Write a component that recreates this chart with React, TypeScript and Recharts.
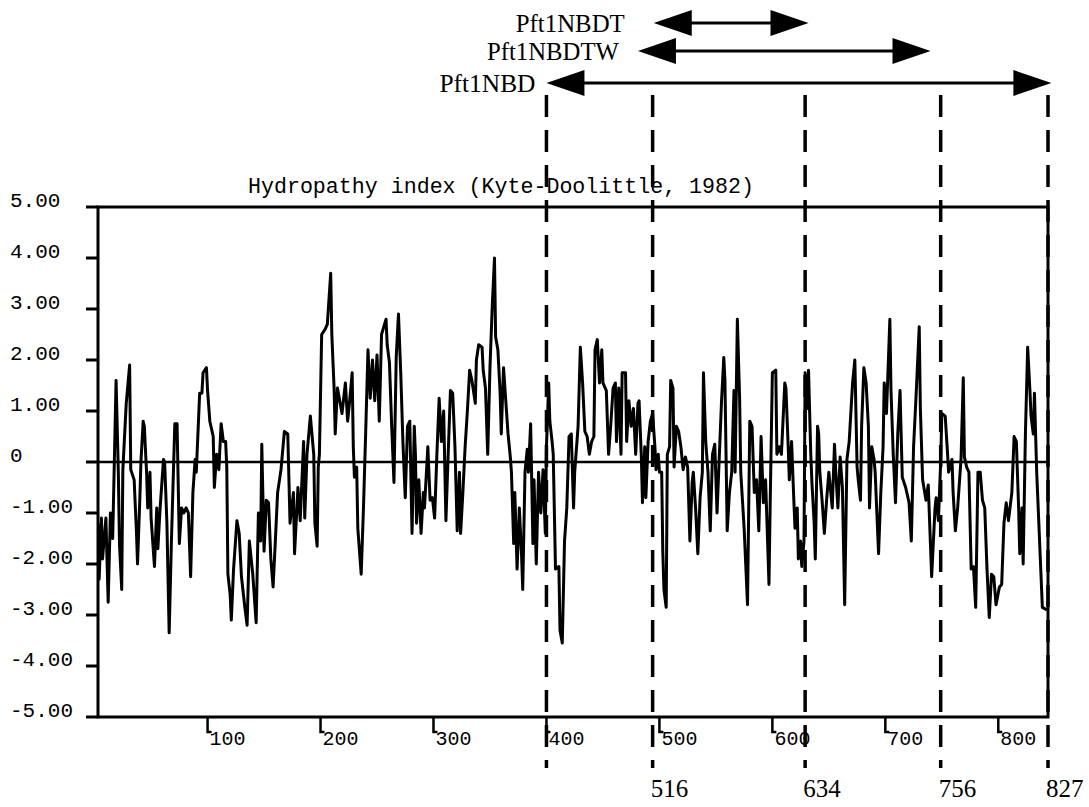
import React from 'react';
import { LineChart, Line, XAxis, YAxis, ReferenceLine, ReferenceArea } from 'recharts';

// residue positions (x) and Kyte-Doolittle hydropathy values (y)
const residues = [
  // 3-140
  3, 4, 6, 7, 10, 12, 14, 16, 19, 21, 22, 24, 25, 28, 31, 32, 35, 37, 38, 40, 41, 43, 44, 46, 47, 49, 50, 53, 55, 56,
  58, 61, 62, 64, 66, 68, 71, 73, 75, 77, 79, 81, 83, 85, 87, 89, 90, 93, 95, 96, 99, 100, 102, 105, 106, 108, 110,
  112, 114, 116, 117, 118, 120, 121, 123, 126, 128, 130, 133, 135, 137, 140,
  // 143-283
  143, 145, 147, 148, 150, 152, 154, 156, 158, 160, 162, 165, 168, 171, 173, 176, 177, 180, 182, 185, 186, 188, 191,
  194, 195, 197, 198, 199, 201, 204, 206, 209, 210, 212, 213, 215, 217, 219, 222, 224, 226, 228, 229, 230, 232, 233,
  236, 238, 240, 242, 244, 246, 248, 250, 252, 254, 258, 259, 261, 263, 265, 267, 269, 271, 273, 275, 277, 279, 281, 283,
  // 284-424
  284, 285, 287, 289, 291, 292, 295, 297, 299, 301, 303, 305, 307, 309, 311, 313, 315, 317, 319, 321, 323, 324, 326,
  328, 330, 332, 334, 337, 338, 340, 343, 344, 346, 348, 350, 352, 354, 355, 357, 359, 360, 362, 364, 366, 368, 369,
  371, 372, 374, 376, 378, 379, 381, 383, 384, 386, 388, 389, 391, 393, 395, 397, 399, 400, 402, 403, 405, 406, 408,
  411, 412, 414, 416, 418, 420, 422, 424,
  // 425-566
  425, 428, 430, 432, 434, 436, 438, 440, 442, 443, 445, 447, 449, 450, 453, 455, 457, 459, 461, 462, 464, 466, 467,
  470, 471, 473, 475, 477, 479, 481, 482, 484, 485, 487, 488, 490, 492, 494, 496, 497, 499, 500, 502, 503, 504, 506,
  507, 509, 510, 512, 513, 515, 517, 519, 521, 523, 525, 527, 529, 530, 532, 534, 536, 538, 539, 541, 543, 545, 547,
  549, 551, 553, 555, 557, 558, 560, 562, 564, 566,
  // 567-707
  567, 569, 571, 572, 575, 578, 580, 582, 584, 586, 588, 590, 592, 594, 597, 598, 600, 603, 604, 606, 608, 611, 612,
  614, 615, 617, 619, 620, 622, 623, 625, 626, 628, 629, 631, 632, 634, 635, 637, 638, 640, 641, 642, 644, 646, 648,
  650, 653, 655, 656, 658, 660, 662, 664, 666, 668, 671, 673, 675, 676, 678, 679, 681, 683, 685, 686, 688, 690, 691,
  694, 696, 698, 699, 701, 704, 705, 707,
  // 709-843
  709, 711, 713, 715, 718, 721, 723, 725, 727, 730, 731, 733, 736, 738, 740, 741, 744, 745, 747, 749, 750, 753, 755,
  756, 759, 760, 762, 764, 767, 769, 770, 772, 774, 776, 778, 780, 782, 784, 786, 788, 790, 792, 794, 796, 798, 801,
  803, 805, 807, 809, 812, 814, 816, 818, 819, 821, 822, 824, 826, 828, 829, 831, 832, 834, 839, 843,
];

const hydropathy = [
  -1.2, -2.3, -1.1, -1.9, -1.1, -2.75, -1.0, -1.5, 1.6, -0.2, -1.6, -2.5, -0.15, 1.15, 1.9, -0.15, -0.35, -1.35, -2.0,
  -0.75, 0, 0.8, 0.7, -0.2, -0.9, -0.2, -1.1, -2.05, -0.9, -1.7, -0.9, 0.05, 0, -1.2, -3.35, -1.55, 0.75, 0.75, -1.6,
  -0.9, -1.0, -0.9, -1.0, -2.25, -0.6, 0.05, -0.2, 1.35, 1.35, 1.75, 1.85, 1.4, 0.8, 0.5, -0.5, 0.15, -0.15, 0.75, 0.4,
  0.4, -0.1, -2.2, -2.6, -3.1, -2.1, -1.15, -1.4, -2.25, -2.85, -3.2, -1.55, -2.2,

  -3.15, -1.0, -1.55, 0.35, -1.75, -0.75, -0.8, -1.9, -2.45, -1.55, -0.6, -0.15, 0.6, 0.55, -1.2, -0.6, -1.8, -0.5,
  -1.15, 0.4, -1.1, 0.15, 0.9, 0.15, -1.2, -1.65, -0.1, 0.15, 2.5, 2.6, 2.7, 3.7, 2.5, 1.45, 0.55, 1.45, 1.2, 0.95,
  1.55, 0.8, 1.25, 1.75, 0.3, -0.3, -0.1, -1.3, -2.2, -0.9, 0.6, 2.2, 1.25, 2.0, 1.2, 2.1, 0.8, 2.5, 2.8, 2.3, 1.95,
  0.7, -0.4, 2.05, 2.9, 1.75, 0.35, -0.7, 0.7, 0.8, -1.4, 0.7,

  0.15, -1.2, -0.35, -1.4, -0.6, -0.9, 0.3, -0.75, -0.7, -1.1, 0.15, 1.25, 0.4, 1.0, -1.15, 0.15, 1.4, 1.35, 0.3,
  -1.35, -0.2, -1.4, -0.6, 0.3, 1.0, 1.8, 1.6, 1.15, 2.0, 2.3, 2.25, 1.8, 1.45, 0.15, 1.85, 3.05, 4.0, 2.45, 2.2, 1.35,
  0.55, 1.85, 1.2, 0.55, 0.1, -0.2, -1.6, -0.6, -2.1, -0.9, -1.85, -2.5, -0.2, 0.25, -0.2, 0.75, -1.6, -0.35, -2.0,
  -0.2, -1.0, -0.15, -1.4, 0.3, 1.55, 0.8, 0.4, 0.15, -2.1, -2.05, -3.3, -3.55, -1.55, -0.9, 0.5, 0.55, -0.9,

  -0.2, 0.7, 2.25, 1.55, 0.6, 0.5, 0.15, 0.4, 0.5, 2.2, 2.4, 1.55, 2.2, 1.55, 1.4, 0.15, 0.75, 1.45, 1.55, 0.4, 1.45,
  0.15, 1.75, 1.75, 0.4, 1.2, 0.7, 1.05, 0.15, 1.15, 1.2, 0.1, -0.8, 0.3, -0.7, 0.4, 0.8, 0.95, 0.3, -0.15, 0.15, -0.2,
  -0.2, -1.75, -2.5, -2.85, 0.15, 0.3, 1.6, 1.45, -0.1, 0.7, 0.6, 0.3, -0.15, 0.1, -0.1, -1.55, -0.4, -0.2, -0.9, -1.8,
  -0.7, -0.2, 1.75, 0.4, -0.2, -1.35, 0.15, 0.35, -1.0, 0.1, 1.2, 2.05, 1.6, -1.35, -0.6, -0.2, 1.4,

  -0.2, 2.8, 1.25, -0.2, -1.3, -2.8, 0.8, 0.7, -0.6, -0.35, -1.35, 0.5, -0.8, -0.35, -2.4, -0.9, 1.75, 1.8, 0.15, 0.3,
  0.15, 1.55, 1.45, 0.3, -0.35, 0.4, -0.75, -1.3, -0.9, -1.9, -1.55, -2.05, -1.55, 1.75, 1.05, 1.8, 0.15, -0.4, -1.2,
  -1.9, 0.7, 0.55, -0.2, -0.75, -1.4, -0.75, -0.2, -0.9, 0.35, -0.15, -0.9, 0.1, -0.5, -2.8, 0.05, 0.4, 1.55, 2.0, -0.1,
  -0.35, -0.75, 0.7, 1.85, 1.55, 0.7, -0.9, 0.3, 0.05, -0.2, -1.8, -0.6, 0.3, 1.55, 0.95, 2.8, 1.4, 0.15,

  -0.8, 0.55, 1.4, -0.3, -0.5, -0.8, -1.55, 0.3, 1.2, 2.65, 1.05, -0.35, -0.75, -0.45, -1.65, -2.25, -0.9, -0.7, -1.15,
  0, 0.95, 0.9, 0.2, -0.2, 0.05, -0.6, -1.35, -0.9, 0.05, 1.65, 0.1, -0.1, -0.2, -2.1, -2.05, -2.85, -0.2, -0.2, -0.75,
  -0.9, -2.1, -3.05, -2.2, -2.25, -2.8, -2.45, -2.4, -1.2, -0.8, -1.15, -0.6, 0.5, 0.4, -0.9, -1.8, -0.9, -2.0, 0.55,
  2.25, 1.4, 0.9, 0.55, 1.35, -0.2, -2.85, -2.9,
];

const xTicks = [100, 200, 300, 400, 500, 600, 700, 800];
const yTicks = [-5, -4, -3, -2, -1, 0, 1, 2, 3, 4, 5];

// dashed construct boundaries (axis position) and their residue labels
const dividerAt = [400, 494, 629, 749, 844];
const dividerLabels = ['', '516', '634', '756', '827'];

// constructs drawn as double arrows above the plot
const constructNames = ['Pft1NBDT', 'Pft1NBDTW', 'Pft1NBD'];
const constructStart = [495, 481, 400];
const constructEnd = [632, 740, 847];

const data = residues.map((r, i) => ({ residue: r, kd: hydropathy[i] }));

const MONO = '"Liberation Mono", "DejaVu Sans Mono", monospace';
const SERIF = '"Liberation Serif", "DejaVu Serif", serif';

// layout for the arrow rows
const arrowRowY = [23, 51, 83];
const labelGap = [29, 19, 11];
const labelWidth = [109, 132, 96];

function XTick(props: any) {
  const { x, y, payload } = props;
  return (
    <g>
      <path d={`M${x},${y} V${y + 15} H${x + 4}`} stroke="#000" strokeWidth={2.5} fill="none" />
      <text x={x + 2} y={y + 28} fontFamily={MONO} fontSize={20} fill="#000">
        {payload.value}
      </text>
    </g>
  );
}

function YTick(props: any) {
  const { y, payload } = props;
  const v = Number(payload.value);
  return (
    <text x={10} y={y} fontFamily={MONO} fontSize={21} fill="#000">
      {v === 0 ? '0' : v.toFixed(2)}
    </text>
  );
}

function Divider(props: any, label: string) {
  const x = props.x1;
  const top = Math.min(props.y1, props.y2) - 112;
  const bottom = Math.max(props.y1, props.y2) + 51;
  return (
    <g>
      <line x1={x} x2={x} y1={top} y2={bottom} stroke="#000" strokeWidth={3.5} strokeDasharray="22 13" />
      {label && (
        <text x={x - 2} y={bottom + 29} fontFamily={SERIF} fontSize={25} fill="#000">
          {label}
        </text>
      )}
    </g>
  );
}

function Arrow(props: any, i: number) {
  const x1 = Math.min(props.x1, props.x2);
  const x2 = Math.max(props.x1, props.x2);
  const y = arrowRowY[i];
  const head = 38;
  const half = 13;
  return (
    <g>
      <line x1={x1 + head - 2} x2={x2 - head + 2} y1={y} y2={y} stroke="#000" strokeWidth={3} />
      <polygon points={`${x1},${y} ${x1 + head},${y - half} ${x1 + head},${y + half}`} fill="#000" />
      <polygon points={`${x2},${y} ${x2 - head},${y - half} ${x2 - head},${y + half}`} fill="#000" />
      <text
        x={x1 - labelGap[i]}
        y={y + 9}
        textAnchor="end"
        fontFamily={SERIF}
        fontSize={25}
        textLength={labelWidth[i]}
        lengthAdjust="spacingAndGlyphs"
        fill="#000"
      >
        {constructNames[i]}
      </text>
    </g>
  );
}

export default function App() {
  return (
    <div style={{ position: 'absolute', left: 0, top: 0, width: 1089, height: 807, background: '#fff' }}>
      <LineChart width={1089} height={807} data={data} margin={{ top: 207, right: 41, bottom: 50, left: 10 }}>
        <XAxis
          dataKey="residue"
          type="number"
          domain={[3, 844]}
          allowDataOverflow
          ticks={xTicks}
          interval={0}
          height={40}
          axisLine={false}
          tickLine={false}
          tickSize={0}
          tickMargin={0}
          tick={<XTick />}
        />
        <YAxis
          type="number"
          domain={[-5, 5]}
          ticks={yTicks}
          interval={0}
          width={88}
          axisLine={false}
          tickLine={{ stroke: '#000', strokeWidth: 3 }}
          tickSize={12}
          tick={<YTick />}
        />
        <ReferenceArea y1={-5} y2={5} fill="none" stroke="#000" strokeWidth={3} ifOverflow="visible" />
        <ReferenceLine y={0} stroke="#000" strokeWidth={2.5} />
        <Line
          dataKey="kd"
          type="linear"
          stroke="#000"
          strokeWidth={3}
          strokeLinejoin="round"
          dot={false}
          activeDot={false}
          isAnimationActive={false}
        />
        {dividerAt.map((d, i) => (
          <ReferenceLine
            key={`div-${i}`}
            x={d}
            ifOverflow="visible"
            shape={(p: any) => Divider(p, dividerLabels[i])}
          />
        ))}
        {constructNames.map((name, i) => (
          <ReferenceLine
            key={name}
            segment={[
              { x: constructStart[i], y: 0 },
              { x: constructEnd[i], y: 0 },
            ]}
            ifOverflow="visible"
            shape={(p: any) => Arrow(p, i)}
          />
        ))}
      </LineChart>
      <svg width={1089} height={807} style={{ position: 'absolute', left: 0, top: 0, pointerEvents: 'none' }}>
        <text x={248} y={193} fontFamily={MONO} fontSize={21.5} fill="#000" textLength={506} lengthAdjust="spacingAndGlyphs">
          Hydropathy index (Kyte-Doolittle, 1982)
        </text>
      </svg>
    </div>
  );
}
